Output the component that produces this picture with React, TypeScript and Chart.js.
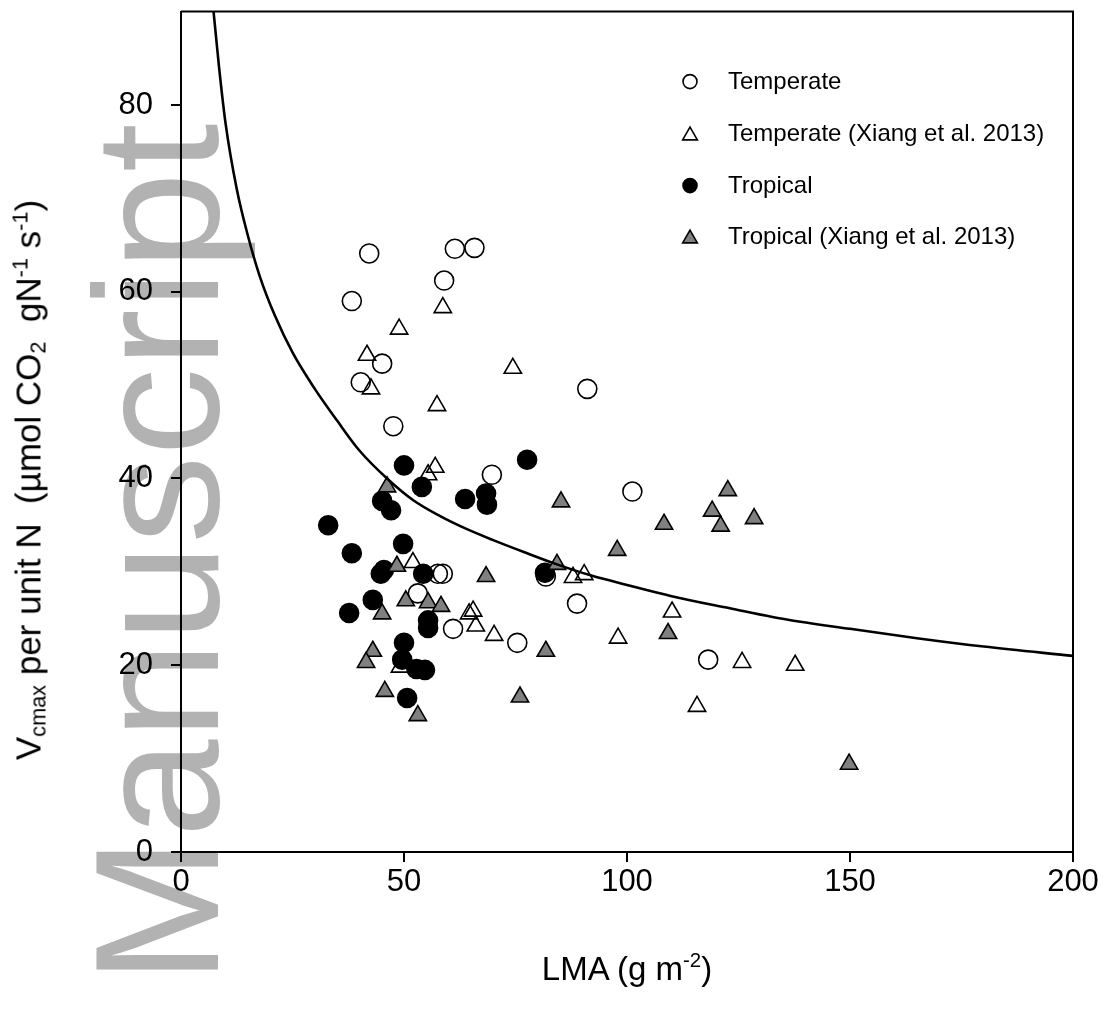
import React, { useEffect, useRef } from "react";
import { Chart, registerables } from "chart.js";

Chart.register(...registerables);

// ---------- data ----------
const temperateLMA = [42.2, 61.4, 65.8, 59.0, 38.3, 45.1, 40.3, 91.1, 47.6, 69.7, 101.2, 57.6, 58.7, 81.8, 53.1, 88.8, 61.0, 75.4, 118.2];
const temperateVcmax = [64.1, 64.6, 64.7, 61.2, 59.0, 52.3, 50.3, 49.6, 45.6, 40.4, 38.6, 29.8, 29.8, 29.5, 27.7, 26.6, 23.9, 22.4, 20.6];

const temperateXiangLMA = [58.7, 48.9, 41.7, 74.4, 42.6, 57.4, 57.0, 55.4, 52.0, 64.6, 65.5, 66.1, 70.2, 87.9, 90.4, 49.1, 110.1, 98.0, 125.8, 137.7, 115.7];
const temperateXiangVcmax = [58.3, 56.0, 53.2, 51.8, 49.6, 47.8, 41.2, 40.4, 31.0, 25.5, 25.8, 24.2, 23.2, 29.4, 29.7, 19.8, 25.7, 22.9, 20.3, 20.0, 15.6];

const tropicalLMA = [50.0, 77.6, 54.0, 45.1, 47.1, 63.7, 68.4, 68.6, 33.0, 38.3, 49.8, 45.5, 44.8, 54.3, 81.6, 43.0, 37.7, 55.4, 55.4, 50.0, 49.6, 52.8, 54.7, 50.7];
const tropicalVcmax = [41.4, 42.0, 39.1, 37.6, 36.6, 37.8, 38.4, 37.2, 35.0, 32.0, 33.0, 30.2, 29.8, 29.8, 29.9, 27.0, 25.6, 24.8, 24.0, 22.4, 20.6, 19.6, 19.5, 16.5];

const tropicalXiangLMA = [46.2, 85.2, 48.4, 68.4, 84.3, 97.8, 122.6, 119.1, 121.0, 128.5, 108.3, 50.4, 55.4, 58.3, 45.1, 43.0, 41.5, 81.8, 45.7, 76.0, 53.1, 109.2, 149.8];
const tropicalXiangVcmax = [39.1, 37.5, 30.6, 29.5, 30.8, 32.3, 38.7, 36.5, 34.9, 35.7, 35.1, 26.9, 26.7, 26.3, 25.5, 21.5, 20.3, 21.5, 17.2, 16.6, 14.6, 23.4, 9.4];

const curveLMA = [7.3, 8.5, 10, 12.5, 15, 17.7, 21, 25, 30, 35, 40, 46.2, 52, 58, 64, 70, 77, 84.3, 92, 100, 110, 122, 135.8, 150, 165, 180, 200];
const curveVcmax = [90, 84.2, 78, 71, 66, 61.6, 57.5, 53.5, 49.6, 46.2, 43.0, 40.0, 37.7, 36.0, 34.6, 33.4, 32.1, 30.8, 29.6, 28.6, 27.4, 26.2, 24.9, 23.9, 22.9, 22.0, 21.0];

const xTicks = [0, 50, 100, 150, 200];
const yTicks = [0, 20, 40, 60, 80];

const legendLabels = [
  "Temperate",
  "Temperate (Xiang et al. 2013)",
  "Tropical",
  "Tropical (Xiang et al. 2013)",
];

const FONT = "'Liberation Sans', Arial, Helvetica, sans-serif";

const pts = (xs: number[], ys: number[]) => xs.map((x, i) => ({ x, y: ys[i] }));

function triPath(ctx: CanvasRenderingContext2D, x: number, y: number, r: number) {
  let rad = 0;
  ctx.beginPath();
  ctx.moveTo(x + Math.sin(rad) * r, y - Math.cos(rad) * r);
  rad += (2 * Math.PI) / 3;
  ctx.lineTo(x + Math.sin(rad) * r, y - Math.cos(rad) * r);
  rad += (2 * Math.PI) / 3;
  ctx.lineTo(x + Math.sin(rad) * r, y - Math.cos(rad) * r);
  ctx.closePath();
}

const decorPlugin = {
  id: "decor",
  beforeDraw(chart: any) {
    const ctx = chart.ctx as CanvasRenderingContext2D;
    ctx.save();
    ctx.translate(218, 984);
    ctx.rotate(-Math.PI / 2);
    ctx.font = `176px ${FONT}`;
    ctx.fillStyle = "#b2b2b2";
    ctx.textBaseline = "alphabetic";
    ctx.textAlign = "left";
    ctx.fillText("Manuscript", 0, 0);
    ctx.restore();
  },
  afterDraw(chart: any) {
    const ctx = chart.ctx as CanvasRenderingContext2D;
    const a = chart.chartArea;
    ctx.save();
    ctx.strokeStyle = "#000";
    ctx.lineWidth = 2;
    ctx.beginPath();
    ctx.moveTo(a.left, a.top);
    ctx.lineTo(a.right, a.top);
    ctx.lineTo(a.right, a.bottom);
    ctx.stroke();

    // legend
    const mx = a.left + 509;
    const tx = a.left + 547;
    const rows = [70, 122, 174, 225].map((d) => a.top + d);
    ctx.font = `24px ${FONT}`;
    ctx.textBaseline = "middle";
    ctx.textAlign = "left";
    legendLabels.forEach((lab, i) => {
      const y = rows[i];
      ctx.lineWidth = 1.6;
      ctx.strokeStyle = "#000";
      if (i === 0 || i === 2) {
        ctx.beginPath();
        ctx.arc(mx, y, 7, 0, Math.PI * 2);
        if (i === 2) {
          ctx.fillStyle = "#000";
          ctx.fill();
        }
        ctx.stroke();
      } else {
        triPath(ctx, mx, y + 2, 8.5);
        if (i === 3) {
          ctx.fillStyle = "#808080";
          ctx.fill();
        }
        ctx.stroke();
      }
      ctx.fillStyle = "#000";
      ctx.fillText(lab, tx, y + 1);
    });
    ctx.restore();
  },
};

export default function App() {
  const ref = useRef<HTMLCanvasElement | null>(null);

  useEffect(() => {
    if (!ref.current) return;
    const chart = new Chart(ref.current, {
      type: "scatter",
      data: {
        datasets: [
          {
            label: "curve",
            data: pts(curveLMA, curveVcmax),
            showLine: true,
            borderColor: "#000",
            borderWidth: 2.6,
            pointRadius: 0,
            cubicInterpolationMode: "monotone",
            order: 0,
          } as any,
          {
            label: legendLabels[0],
            data: pts(temperateLMA, temperateVcmax),
            pointStyle: "circle",
            pointRadius: 9.5,
            backgroundColor: "rgba(0,0,0,0)",
            borderColor: "#000",
            borderWidth: 1.6,
            order: 4,
          },
          {
            label: legendLabels[1],
            data: pts(temperateXiangLMA, temperateXiangVcmax),
            pointStyle: "triangle",
            pointRadius: 10,
            backgroundColor: "rgba(0,0,0,0)",
            borderColor: "#000",
            borderWidth: 1.6,
            order: 3,
          },
          {
            label: legendLabels[2],
            data: pts(tropicalLMA, tropicalVcmax),
            pointStyle: "circle",
            pointRadius: 9.5,
            backgroundColor: "#000",
            borderColor: "#000",
            borderWidth: 1.6,
            order: 2,
          },
          {
            label: legendLabels[3],
            data: pts(tropicalXiangLMA, tropicalXiangVcmax),
            pointStyle: "triangle",
            pointRadius: 10,
            backgroundColor: "#808080",
            borderColor: "#000",
            borderWidth: 1.6,
            order: 1,
          },
        ],
      },
      options: {
        animation: false,
        responsive: true,
        maintainAspectRatio: false,
        events: [],
        layout: { padding: { left: 0, right: 34, top: 8, bottom: 0 } },
        plugins: {
          legend: { display: false },
          tooltip: { enabled: false },
        },
        scales: {
          x: {
            type: "linear",
            min: 0,
            max: 200,
            afterBuildTicks: (s: any) => {
              s.ticks = xTicks.map((v) => ({ value: v }));
            },
            afterFit: (s: any) => {
              s.height = 167;
              s.paddingLeft = 0;
              s.paddingRight = 0;
            },
            ticks: {
              color: "#000",
              font: { family: FONT, size: 31 },
              padding: 2,
              maxRotation: 0,
            },
            grid: {
              display: true,
              drawOnChartArea: false,
              drawTicks: true,
              tickLength: 10,
              color: "#000",
              lineWidth: 2,
            },
            border: { display: true, color: "#000", width: 2 },
          },
          y: {
            type: "linear",
            min: 0,
            max: 90,
            afterBuildTicks: (s: any) => {
              s.ticks = yTicks.map((v) => ({ value: v }));
            },
            afterFit: (s: any) => {
              s.width = 181;
              s.paddingTop = 0;
              s.paddingBottom = 0;
            },
            ticks: {
              color: "#000",
              font: { family: FONT, size: 31 },
              padding: 18,
            },
            grid: {
              display: true,
              drawOnChartArea: false,
              drawTicks: true,
              tickLength: 10,
              color: "#000",
              lineWidth: 2,
            },
            border: { display: true, color: "#000", width: 2 },
          },
        },
      },
      plugins: [decorPlugin],
    });
    return () => chart.destroy();
  }, []);

  const sub: React.CSSProperties = { fontSize: "0.62em", verticalAlign: "-0.25em", lineHeight: 0 };
  const sup: React.CSSProperties = { fontSize: "0.62em", verticalAlign: "0.6em", lineHeight: 0 };

  return (
    <div
      style={{
        position: "absolute",
        left: 0,
        top: 0,
        width: 1107,
        height: 1019,
        background: "#fff",
        fontFamily: FONT,
        color: "#000",
      }}
    >
      <canvas ref={ref} style={{ position: "absolute", left: 0, top: 0 }} />
      <div
        style={{
          position: "absolute",
          left: 28,
          top: 480,
          transform: "translate(-50%, -50%) rotate(-90deg)",
          whiteSpace: "nowrap",
          fontSize: 35,
          lineHeight: 1,
        }}
      >
        V<span style={sub}>cmax</span> per unit N&nbsp; (µmol CO<span style={sub}>2</span>&nbsp; gN
        <span style={sup}>-1</span> s<span style={sup}>-1</span>)
      </div>
      <div
        style={{
          position: "absolute",
          left: 627,
          top: 968,
          transform: "translate(-50%, -50%)",
          whiteSpace: "nowrap",
          fontSize: 33,
          lineHeight: 1,
        }}
      >
        LMA (g m<span style={sup}>-2</span>)
      </div>
    </div>
  );
}
